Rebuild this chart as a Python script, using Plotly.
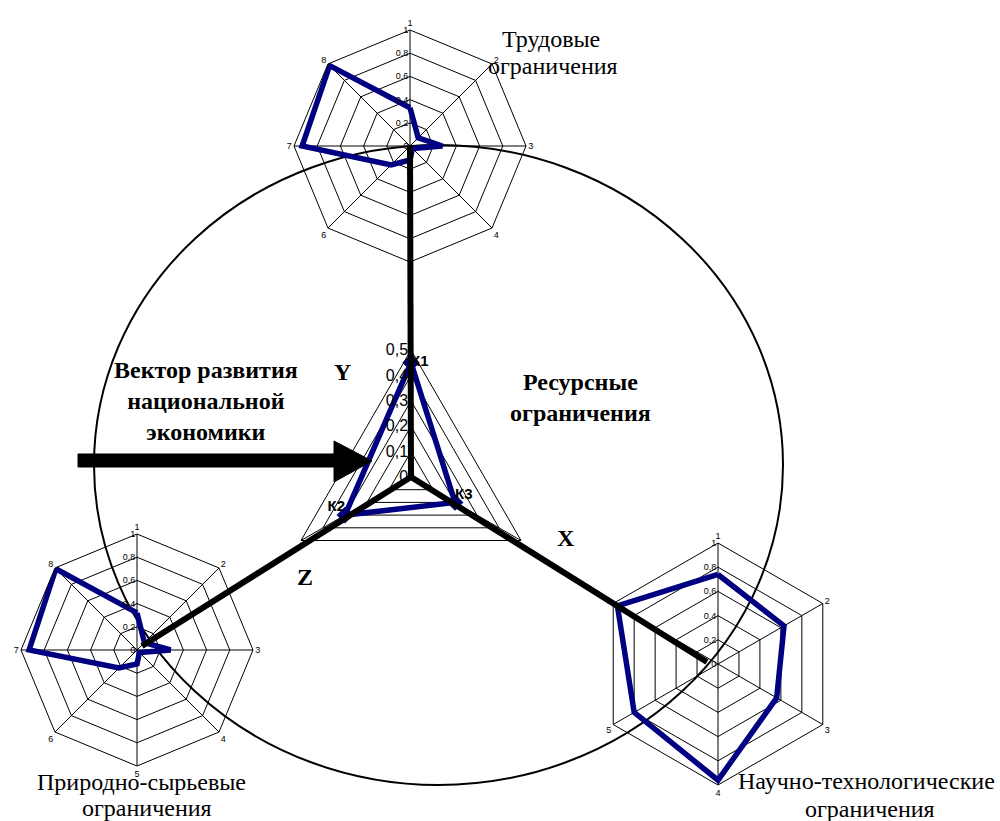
import plotly.graph_objects as go

W, H = 1000, 821

# ---------------- data ----------------
oct_axes = ["1", "2", "3", "4", "5", "6", "7", "8"]
labor_vals = [0.33, 0.10, 0.28, 0.03, 0.12, 0.23, 0.93, 0.98]      # Трудовые ограничения
natural_vals = [0.32, 0.09, 0.29, 0.03, 0.12, 0.22, 0.93, 0.99]    # Природно-сырьевые ограничения
hex_axes = ["1", "2", "3", "4", "5", "6"]
tech_vals = [0.74, 0.63, 0.56, 0.96, 0.80, 0.96]                   # Научно-технологические ограничения
k_axes = ["К1", "К2", "К3"]
k_vals = [0.45, 0.30, 0.20]                                        # Ресурсные ограничения

small_ticks = [0, 0.2, 0.4, 0.6, 0.8, 1.0]
small_ticktext = ["0", "0,2", "0,4", "0,6", "0,8", "1"]
k_ticks = [0, 0.1, 0.2, 0.3, 0.4, 0.5]
k_ticktext = ["0", "0,1", "0,2", "0,3", "0,4", "0,5"]

NAVY = "#000080"
SANS = "Liberation Sans, Arial, sans-serif"
SERIF = "Liberation Serif, Times New Roman, serif"


def px(x):
    return x / W


def py(y):
    return 1 - y / H


def domain(cx, cy, r):
    return dict(x=[px(cx - r), px(cx + r)], y=[py(cy + r), py(cy - r)])


def closed(vals, cats):
    return list(vals) + [vals[0]], list(cats) + [cats[0]]


fig = go.Figure()

for name, vals, cats in [("polar", labor_vals, oct_axes),
                         ("polar2", natural_vals, oct_axes),
                         ("polar3", tech_vals, hex_axes)]:
    r, t = closed(vals, cats)
    fig.add_trace(go.Scatterpolar(r=r, theta=t, mode="lines",
                                  line=dict(color=NAVY, width=5.5),
                                  subplot=name, hoverinfo="skip"))

r, t = closed(k_vals, k_axes)
fig.add_trace(go.Scatterpolar(r=r, theta=t, mode="lines+markers",
                              line=dict(color=NAVY, width=5.5),
                              marker=dict(symbol="diamond", size=13, color=NAVY),
                              subplot="polar4", hoverinfo="skip"))
fig.add_trace(go.Scatterpolar(r=k_vals, theta=k_axes, mode="text",
                              text=["<b>%s</b>" % k for k in k_axes],
                              textposition=["middle right", "top left", "top right"],
                              textfont=dict(family=SANS, size=15, color="black"),
                              subplot="polar4", hoverinfo="skip"))


def small_polar(cx, cy, rad, cats):
    return dict(
        domain=domain(cx, cy, rad),
        bgcolor="rgba(0,0,0,0)",
        gridshape="linear",
        angularaxis=dict(type="category", categoryarray=cats, direction="clockwise",
                         rotation=90, showline=True, linecolor="black", linewidth=1,
                         gridcolor="black", gridwidth=1, ticks="",
                         tickfont=dict(family=SANS, size=9, color="black")),
        radialaxis=dict(range=[0, 1], tickvals=small_ticks, ticktext=small_ticktext,
                        angle=90, tickangle=90, side="counterclockwise", showline=False,
                        gridcolor="black", gridwidth=1, ticks="",
                        tickfont=dict(family=SANS, size=9, color="black")),
    )


fig.update_layout(
    width=W, height=H,
    margin=dict(l=0, r=0, t=0, b=0),
    paper_bgcolor="white",
    showlegend=False,
    polar=small_polar(410, 146, 116, oct_axes),
    polar2=small_polar(137, 650, 116, oct_axes),
    polar3=small_polar(718, 664, 121, hex_axes),
    polar4=dict(
        domain=domain(411, 477, 127),
        bgcolor="rgba(0,0,0,0)",
        gridshape="linear",
        angularaxis=dict(type="category", categoryarray=k_axes, direction="counterclockwise",
                         rotation=90, showline=True, linecolor="black", linewidth=1,
                         gridcolor="black", gridwidth=1, ticks="", showticklabels=False),
        radialaxis=dict(range=[0, 0.5], tickvals=k_ticks, ticktext=k_ticktext,
                        angle=90, tickangle=90, side="counterclockwise", showline=False,
                        gridcolor="black", gridwidth=1, ticks="",
                        tickfont=dict(family=SANS, size=16, color="black")),
    ),
)

shapes = []
# big ellipse
shapes.append(dict(type="circle", xref="paper", yref="paper",
                   x0=px(94), x1=px(783), y0=py(785), y1=py(145),
                   line=dict(color="black", width=2), layer="below"))
# thick axes X, Y, Z
for (x1, y1) in [(410, 146), (142, 646), (707, 662)]:
    shapes.append(dict(type="line", xref="paper", yref="paper",
                       x0=px(411), y0=py(477), x1=px(x1), y1=py(y1),
                       line=dict(color="black", width=6), layer="above"))
# arrow
arrow_pts = [(78, 454), (334, 454), (334, 441), (372, 461), (334, 482), (334, 467), (78, 467)]
path = "M " + " L ".join("%.5f,%.5f" % (px(x), py(y)) for x, y in arrow_pts) + " Z"
shapes.append(dict(type="path", xref="paper", yref="paper", path=path,
                   fillcolor="black", line=dict(color="black", width=1), layer="above"))
fig.update_layout(shapes=shapes)

ann = []


def text(x, y, s, size=24, bold=False):
    ann.append(dict(x=px(x), y=py(y), xref="paper", yref="paper", text=("<b>%s</b>" % s) if bold else s,
                    showarrow=False, xanchor="center", yanchor="middle", align="center",
                    font=dict(family=SERIF, size=size, color="black")))


text(206, 401, "Вектор развития<br>национальной<br>экономики", 24, True)
text(580, 397, "Ресурсные<br>ограничения", 24, True)
text(342, 372, "Y", 24, True)
text(305, 577, "Z", 24, True)
text(566, 538, "X", 24, True)
text(551, 39, "Трудовые", 24)
text(553, 66, "ограничения", 24)
text(141, 782, "Природно-сырьевые", 24)
text(147, 808, "ограничения", 24)
text(866, 781, "Научно-технологические", 24)
text(870, 809, "ограничения", 24)
fig.update_layout(annotations=ann)

fig.write_html("out.html", config={"displayModeBar": False},
               post_script="document.body.style.margin='0px';document.body.style.overflow='hidden';")
